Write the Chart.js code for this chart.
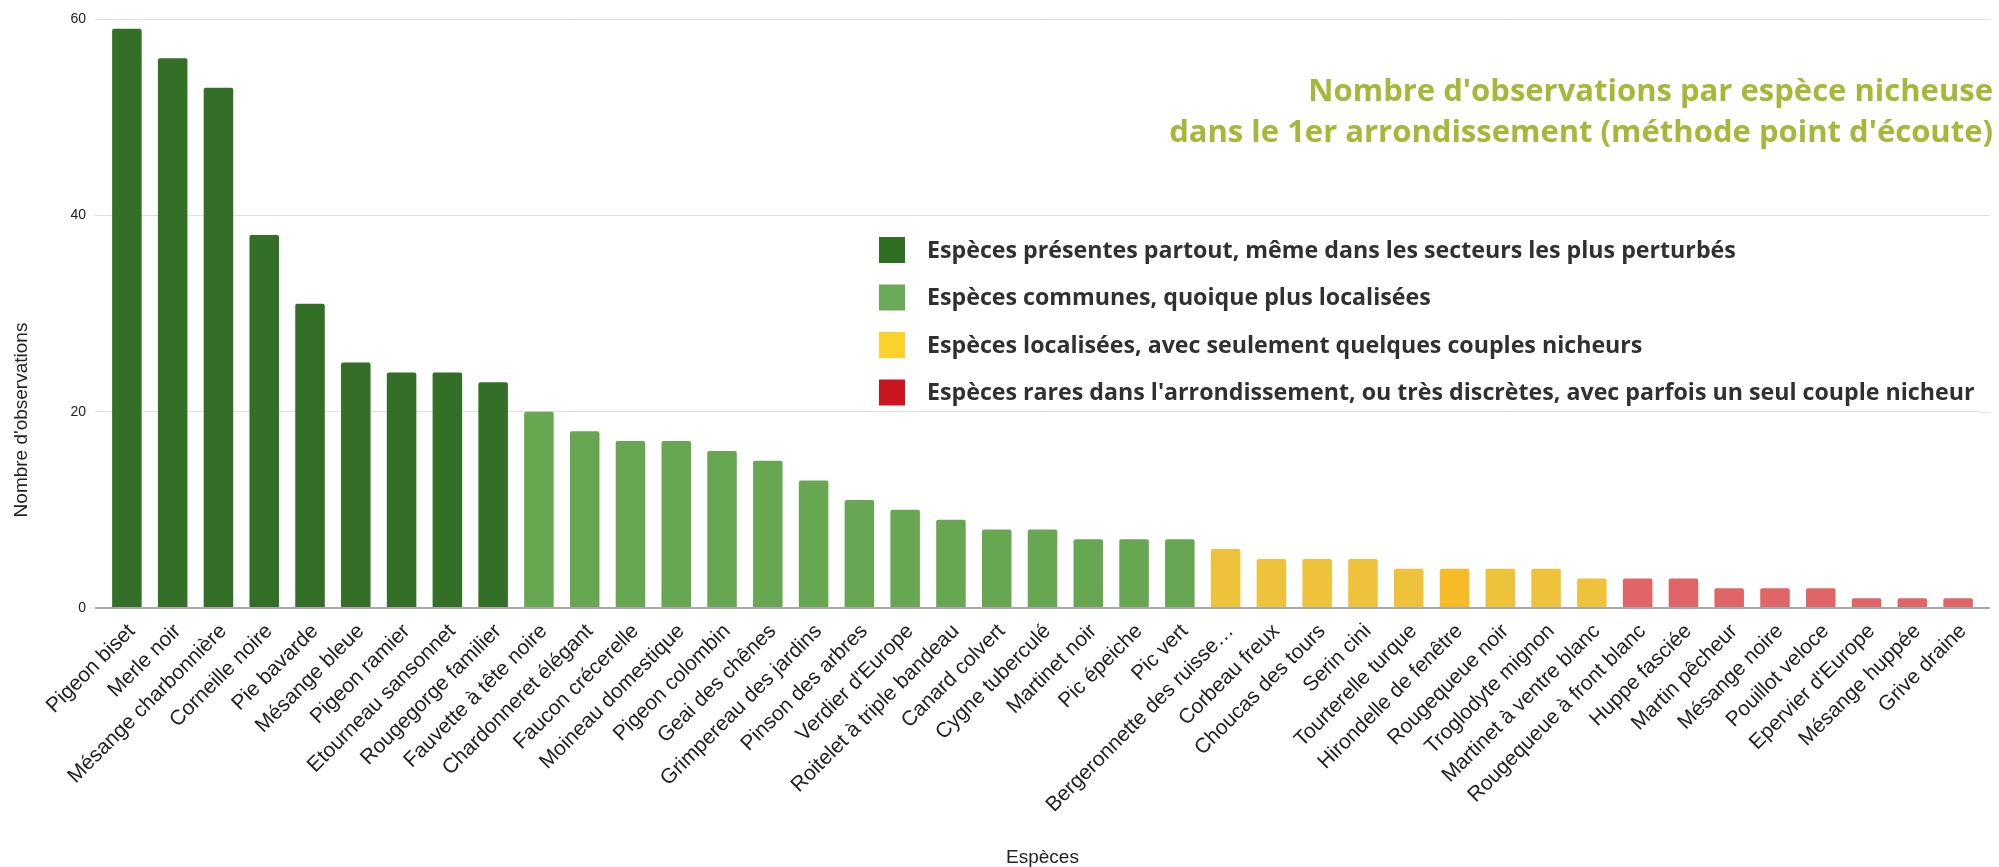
<!DOCTYPE html>
<html lang="fr">
<head>
<meta charset="utf-8">
<title>Nombre d'observations par espèce nicheuse</title>
<script src="https://cdn.jsdelivr.net/npm/chart.js@4.4.1/dist/chart.umd.min.js"></script>
<style>
    html, body { margin: 0; padding: 0; background: #ffffff; }
    #wrap { width: 1999px; height: 867px; position: relative; }
</style>
</head>
<body>
<div id="wrap"><canvas id="chart"></canvas></div>
<script>
// Espèces, dans l'ordre du graphique
const especes = [
    "Pigeon biset", "Merle noir", "Mésange charbonnière", "Corneille noire", "Pie bavarde",
    "Mésange bleue", "Pigeon ramier", "Etourneau sansonnet", "Rougegorge familier",
    "Fauvette à tête noire", "Chardonneret élégant", "Faucon crécerelle", "Moineau domestique",
    "Pigeon colombin", "Geai des chênes", "Grimpereau des jardins", "Pinson des arbres",
    "Verdier d'Europe", "Roitelet à triple bandeau", "Canard colvert", "Cygne tuberculé",
    "Martinet noir", "Pic épeiche", "Pic vert", "Bergeronnette des ruisse…", "Corbeau freux",
    "Choucas des tours", "Serin cini", "Tourterelle turque", "Hirondelle de fenêtre",
    "Rougequeue noir", "Troglodyte mignon", "Martinet à ventre blanc", "Rougequeue à front blanc",
    "Huppe fasciée", "Martin pêcheur", "Mésange noire", "Pouillot veloce", "Epervier d'Europe",
    "Mésange huppée", "Grive draine"
];

// Nombre d'observations par espèce
const observations = [
    59, 56, 53, 38, 31, 25, 24, 24, 23,
    20, 18, 17, 17, 16, 15, 13, 11, 10, 9, 8, 8, 7, 7, 7,
    6, 5, 5, 5, 4, 4, 4, 4, 3,
    3, 3, 2, 2, 2, 1, 1, 1
];

// Statut de chaque espèce (index dans statuts)
const statutEspece = [
    0, 0, 0, 0, 0, 0, 0, 0, 0,
    1, 1, 1, 1, 1, 1, 1, 1, 1, 1, 1, 1, 1, 1, 1,
    2, 2, 2, 2, 2, 2, 2, 2, 2,
    3, 3, 3, 3, 3, 3, 3, 3
];

const statuts = [
    "Espèces présentes partout, même dans les secteurs les plus perturbés",
    "Espèces communes, quoique plus localisées",
    "Espèces localisées, avec seulement quelques couples nicheurs",
    "Espèces rares dans l'arrondissement, ou très discrètes, avec parfois un seul couple nicheur"
];

const yTicks = [0, 20, 40, 60];

// couleurs des barres et des carrés de légende
const barColors = ["#336f27", "#68a752", "#efc23c", "#e06567"];
const legendColors = ["#2f6e23", "#6aa85a", "#fcd12a", "#c9161f"];
const barColorOverride = { "Hirondelle de fenêtre": "#f7bb28" };

let backgroundColor = [];
for (let i = 0; i < especes.length; i++) {
    backgroundColor.push(barColorOverride[especes[i]] || barColors[statutEspece[i]]);
}

const textFont = "'Liberation Sans', Arial, sans-serif";
const titleFont = "'Open Sans', Lato, sans-serif";

// Titre, légende et titre de l'axe Y dessinés à la main
const overlayPlugin = {
    id: 'overlay',
    beforeDatasetsDraw(chart) {
        // prolonge les lignes de grille un peu à droite, comme l'original
        let ctx = chart.ctx;
        let area = chart.chartArea;
        let y = chart.scales.y;
        ctx.save();
        for (let t of y.ticks) {
            let py = Math.round(y.getPixelForValue(t.value));
            let zero = t.value === 0;
            ctx.strokeStyle = zero ? '#a8a8a8' : '#dedede';
            ctx.lineWidth = zero ? 2 : 1;
            ctx.beginPath();
            ctx.moveTo(area.right, py + (zero ? 0 : 0.5));
            ctx.lineTo(area.right + 9, py + (zero ? 0 : 0.5));
            ctx.stroke();
        }
        ctx.restore();
    },
    afterDraw(chart) {
        let ctx = chart.ctx;
        ctx.save();

        // titre
        ctx.fillStyle = '#a5b83a';
        ctx.font = "bold 31px " + titleFont;
        ctx.textAlign = 'right';
        ctx.textBaseline = 'middle';
        ctx.fillText("Nombre d'observations par espèce nicheuse", 1993, 92);
        ctx.fillText("dans le 1er arrondissement (méthode point d'écoute)", 1993, 133);

        // légende
        ctx.font = "bold 23.2px " + titleFont;
        ctx.textAlign = 'left';
        for (let i = 0; i < statuts.length; i++) {
            let cy = 250 + i * 47.5;
            ctx.fillStyle = legendColors[i];
            ctx.fillRect(879, cy - 13, 26, 26);
            ctx.fillStyle = '#303030';
            ctx.fillText(statuts[i], 927, cy + 1);
        }

        // titre de l'axe Y
        ctx.translate(22, 420);
        ctx.rotate(-Math.PI / 2);
        ctx.font = "19px " + textFont;
        ctx.fillStyle = '#222222';
        ctx.textAlign = 'center';
        ctx.fillText("Nombre d'observations", 0, 0);
        ctx.restore();
    }
};

new Chart(document.getElementById('chart'), {
    type: 'bar',
    data: {
        labels: especes,
        datasets: [{
            label: "Nombre d'observations",
            data: observations,
            backgroundColor: backgroundColor,
            borderWidth: 0,
            borderRadius: { topLeft: 2, topRight: 2, bottomLeft: 0, bottomRight: 0 },
            borderSkipped: 'start',
            barPercentage: 0.645,
            categoryPercentage: 1
        }]
    },
    options: {
        responsive: true,
        maintainAspectRatio: false,
        animation: false,
        layout: { padding: { top: 19, right: 18, left: 0, bottom: 0 } },
        plugins: {
            legend: { display: false },
            tooltip: { enabled: false }
        },
        scales: {
            x: {
                grid: { display: false, drawTicks: false },
                border: { display: false },
                ticks: {
                    autoSkip: false,
                    maxRotation: 45,
                    minRotation: 45,
                    padding: 11,
                    labelOffset: 5,
                    color: '#222222',
                    font: { family: textFont, size: 21 }
                },
                title: {
                    display: true,
                    text: 'Espèces',
                    color: '#222222',
                    font: { family: textFont, size: 19, lineHeight: 1 },
                    padding: { top: 0, bottom: 0 }
                },
                afterFit: (scale) => { scale.height = 259; }
            },
            y: {
                min: 0,
                max: 60,
                afterBuildTicks: (scale) => { scale.ticks = yTicks.map(v => ({ value: v })); },
                grid: {
                    color: (c) => c.tick && c.tick.value === 0 ? '#a8a8a8' : '#dedede',
                    lineWidth: (c) => c.tick && c.tick.value === 0 ? 2 : 1,
                    tickLength: 9
                },
                border: { display: false },
                ticks: {
                    padding: 9,
                    color: '#222222',
                    font: { family: textFont, size: 14 }
                },
                afterFit: (scale) => { scale.width = 104; }
            }
        }
    },
    plugins: [overlayPlugin]
});
</script>
</body>
</html>
